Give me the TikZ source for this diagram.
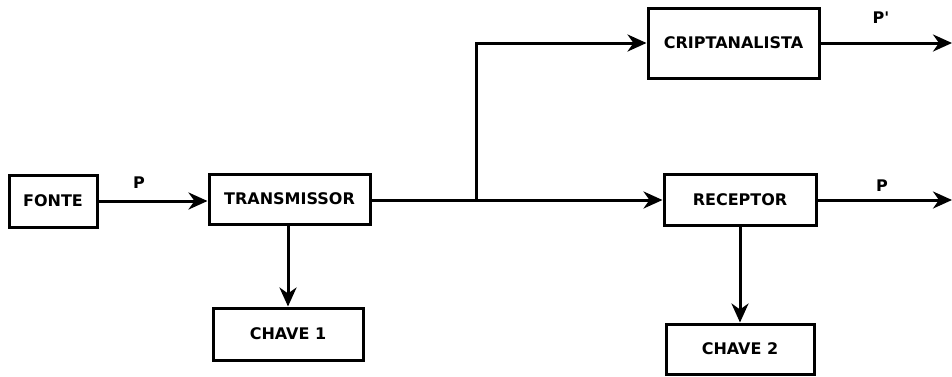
\documentclass[tikz,border=0pt]{standalone}
\usepackage{fontspec}
\setmainfont{DejaVu Sans}
\newfontfamily\rawfont{DejaVu Sans}
\usetikzlibrary{arrows.meta}
\begin{document}
\begin{tikzpicture}[x=1pt,y=-1pt,
  blk/.style={draw=black,line width=3pt,rectangle,inner sep=0pt,font=\fontsize{16}{18}\selectfont\bfseries},
  conn/.style={line width=3pt,-{Stealth[length=19pt,width=17pt,inset=6pt]}},
  lbl/.style={font=\fontsize{16}{18}\selectfont\rawfont\bfseries,inner sep=0pt}]
\useasboundingbox (0,0) rectangle (952,376);
\node[blk,minimum width=88pt,minimum height=52pt] (fonte) at (53,201) {FONTE};
\node[blk,minimum width=161pt,minimum height=50pt] (tx) at (289.5,199) {TRANSMISSOR};
\node[blk,minimum width=150pt,minimum height=52pt] (ch1) at (288,334) {CHAVE 1};
\node[blk,minimum width=171pt,minimum height=70pt] (cr) at (733.5,43) {CRIPTANALISTA};
\node[blk,minimum width=152pt,minimum height=51pt] (rx) at (740,200) {RECEPTOR};
\node[blk,minimum width=148pt,minimum height=50pt] (ch2) at (740,349) {CHAVE 2};
\coordinate (j) at (476,200);
\coordinate (o1) at (952,43);
\coordinate (o2) at (952,200);
\draw[conn] (fonte.east) -- (fonte.east -| tx.west);
\draw[conn] (tx.east |- j) -- (rx.west);
\draw[conn] (j) |- (cr.west);
\draw[conn] (cr.east) -- (o1);
\draw[conn] (rx.east) -- (o2);
\draw[conn] (tx.south -| ch1.north) -- (ch1.north);
\draw[conn] (rx.south) -- (ch2.north);
\node[lbl] (p1) at (139,183) {P};
\node[lbl] (p2) at (881,18) {P'};
\node[lbl] (p3) at (882,186) {P};
\end{tikzpicture}
\end{document}
